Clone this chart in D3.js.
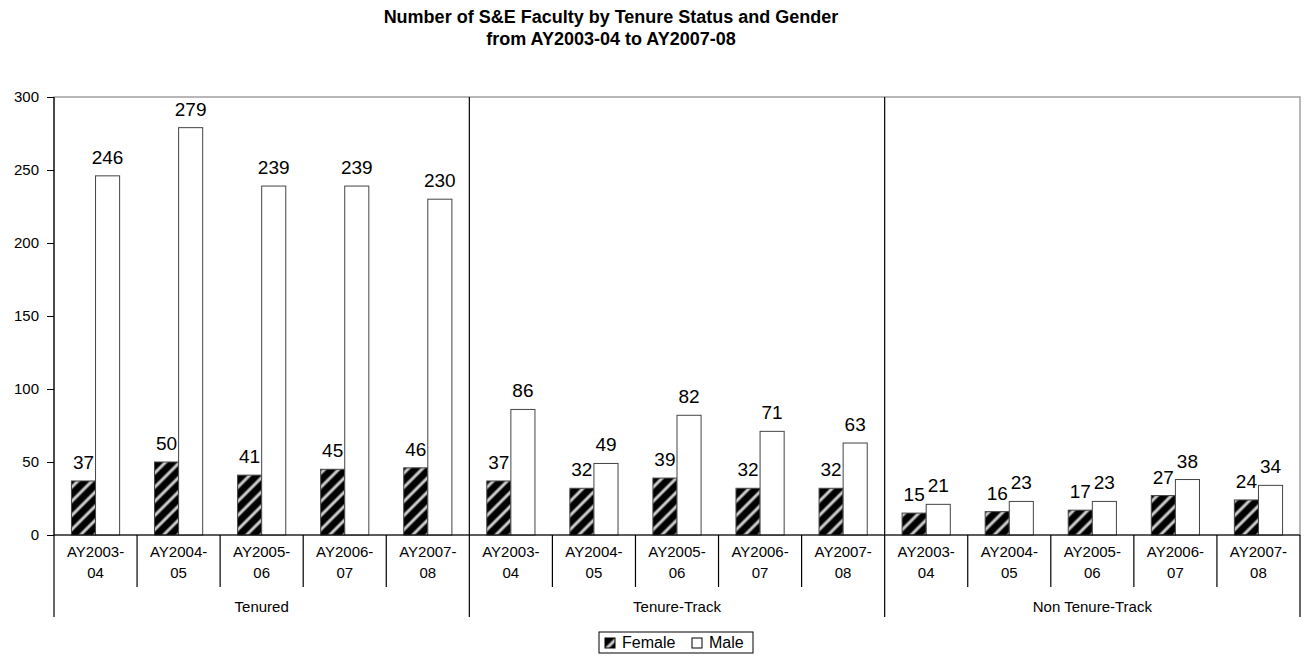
<!DOCTYPE html>
<html>
<head>
<meta charset="utf-8">
<script src="https://cdn.jsdelivr.net/npm/d3@7"></script>
<style>
  body { margin: 0; background: #fff; }
  text { font-family: "Liberation Sans", Arial, sans-serif; }
</style>
</head>
<body>
<div id="chart"></div>
<script>
// S&E faculty counts
const groups = ["Tenured", "Tenure-Track", "Non Tenure-Track"];
const years = ["AY2003-04", "AY2004-05", "AY2005-06", "AY2006-07", "AY2007-08"];
const series = ["Female", "Male"];
const femaleValues = [
  [37, 50, 41, 45, 46],
  [37, 32, 39, 32, 32],
  [15, 16, 17, 27, 24]
];
const maleValues = [
  [246, 279, 239, 239, 230],
  [86, 49, 82, 71, 63],
  [21, 23, 23, 38, 34]
];
const yTicks = [0, 50, 100, 150, 200, 250, 300];

const width = 1308, height = 656;
const margin = { left: 54, right: 8, top: 97, bottom: 121 };
const plotRight = width - margin.right;
const plotBottom = height - margin.bottom;

// flatten into one row per category
const rows = [];
groups.forEach((g, gi) => {
  years.forEach((yr, yi) => {
    rows.push({ key: g + "|" + yr, group: g, gi, year: yr, yi,
      Female: femaleValues[gi][yi], Male: maleValues[gi][yi] });
  });
});

const svg = d3.select("#chart").append("svg")
  .attr("width", width)
  .attr("height", height);

const defs = svg.append("defs");

// soft diagonal stripes for the Female bars
const grad = defs.append("linearGradient")
  .attr("id", "stripeGrad")
  .attr("x1", "0%").attr("x2", "100%")
  .attr("y1", "0%").attr("y2", "0%");
[[0, "#000"], [0.45, "#000"], [0.7, "#fff"], [0.95, "#000"], [1, "#000"]].forEach(s => {
  grad.append("stop").attr("offset", s[0]).attr("stop-color", s[1]);
});
const pat = defs.append("pattern")
  .attr("id", "femaleHatch")
  .attr("patternUnits", "userSpaceOnUse")
  .attr("width", 10).attr("height", 10)
  .attr("patternTransform", "rotate(45)");
pat.append("rect")
  .attr("width", 10).attr("height", 10)
  .attr("fill", "url(#stripeGrad)");

const x = d3.scaleBand()
  .domain(rows.map(d => d.key))
  .range([margin.left, plotRight])
  .padding(0);

const xInner = d3.scaleBand()
  .domain(series)
  .range([x.bandwidth() * 0.21, x.bandwidth() * 0.79])
  .padding(0);

const y = d3.scaleLinear()
  .domain([0, 300])
  .range([plotBottom, margin.top]);

// Title
const title = svg.append("text")
  .attr("x", 611)
  .attr("y", 23)
  .attr("text-anchor", "middle")
  .attr("font-size", "18px")
  .attr("font-weight", "bold")
  .attr("fill", "#000");
title.append("tspan").attr("x", 611).attr("dy", 0)
  .text("Number of S&E Faculty by Tenure Status and Gender");
title.append("tspan").attr("x", 611).attr("dy", 22)
  .text("from AY2003-04 to AY2007-08");

// plot area border (grey)
svg.append("rect")
  .attr("x", margin.left)
  .attr("y", margin.top)
  .attr("width", plotRight - margin.left)
  .attr("height", plotBottom - margin.top)
  .attr("fill", "none")
  .attr("stroke", "#a0a0a0")
  .attr("stroke-width", 1.5);

// bars
const cat = svg.append("g").selectAll("g")
  .data(rows)
  .enter()
  .append("g")
  .attr("transform", d => `translate(${x(d.key)},0)`);

cat.selectAll("rect")
  .data(d => series.map(s => ({ s, v: d[s] })))
  .enter()
  .append("rect")
  .attr("x", d => xInner(d.s))
  .attr("y", d => y(d.v))
  .attr("width", xInner.bandwidth())
  .attr("height", d => y(0) - y(d.v))
  .attr("fill", d => d.s === "Female" ? "url(#femaleHatch)" : "#fff")
  .attr("stroke", "#444")
  .attr("stroke-width", 1);

cat.selectAll("text.val")
  .data(d => series.map(s => ({ s, v: d[s] })))
  .enter()
  .append("text")
  .attr("class", "val")
  .attr("x", d => xInner(d.s) + xInner.bandwidth() / 2)
  .attr("y", d => y(d.v) - 12)
  .attr("text-anchor", "middle")
  .attr("font-size", "19px")
  .attr("fill", "#000")
  .text(d => d.v);

// y axis
const yAxis = d3.axisLeft(y)
  .tickValues(yTicks)
  .tickSize(7)
  .tickPadding(8);
const yg = svg.append("g")
  .attr("transform", `translate(${margin.left},0)`)
  .call(yAxis);
yg.select(".domain").remove();
yg.selectAll("line").attr("stroke", "#000");
yg.selectAll("text")
  .attr("font-size", "15px")
  .attr("font-family", "Liberation Sans, Arial, sans-serif")
  .attr("fill", "#000");

// axis lines
const axisLines = svg.append("g").attr("stroke", "#000").attr("stroke-width", 1.2);
axisLines.append("line")
  .attr("x1", margin.left).attr("x2", margin.left)
  .attr("y1", margin.top).attr("y2", plotBottom + 82);
axisLines.append("line")
  .attr("x1", margin.left).attr("x2", plotRight)
  .attr("y1", plotBottom).attr("y2", plotBottom);

// category separators in the label area
rows.forEach((d, i) => {
  if (i === 0) return;
  const xb = x(d.key);
  const isGroupEdge = d.yi === 0;
  axisLines.append("line")
    .attr("x1", xb).attr("x2", xb)
    .attr("y1", isGroupEdge ? margin.top : plotBottom)
    .attr("y2", isGroupEdge ? plotBottom + 82 : plotBottom + 52);
});
axisLines.append("line")
  .attr("x1", plotRight).attr("x2", plotRight)
  .attr("y1", plotBottom).attr("y2", plotBottom + 82);

// year labels (two lines)
const yl = svg.append("g").selectAll("text")
  .data(rows)
  .enter()
  .append("text")
  .attr("text-anchor", "middle")
  .attr("font-size", "15px")
  .attr("fill", "#000");
yl.append("tspan")
  .attr("x", d => x(d.key) + x.bandwidth() / 2)
  .attr("y", plotBottom + 22)
  .text(d => d.year.split("-")[0] + "-");
yl.append("tspan")
  .attr("x", d => x(d.key) + x.bandwidth() / 2)
  .attr("y", plotBottom + 43)
  .text(d => d.year.split("-")[1]);

// group labels
svg.append("g").selectAll("text")
  .data(groups)
  .enter()
  .append("text")
  .attr("x", (g, gi) => {
    const first = x(g + "|" + years[0]);
    const last = x(g + "|" + years[years.length - 1]) + x.bandwidth();
    return (first + last) / 2;
  })
  .attr("y", plotBottom + 77)
  .attr("text-anchor", "middle")
  .attr("font-size", "15px")
  .attr("fill", "#000")
  .text(g => g);

// legend
const legend = svg.append("g").attr("transform", "translate(599,632)");
legend.append("rect")
  .attr("width", 154).attr("height", 21)
  .attr("fill", "#fff")
  .attr("stroke", "#000")
  .attr("stroke-width", 1);
const legItems = [{ s: "Female", x: 6 }, { s: "Male", x: 93 }];
legItems.forEach(it => {
  legend.append("rect")
    .attr("x", it.x).attr("y", 6)
    .attr("width", 10).attr("height", 10)
    .attr("fill", it.s === "Female" ? "url(#femaleHatch)" : "#fff")
    .attr("stroke", "#000")
    .attr("stroke-width", 1);
  legend.append("text")
    .attr("x", it.x + 17)
    .attr("y", 16)
    .attr("font-size", "16px")
    .attr("fill", "#000")
    .text(it.s);
});
</script>
</body>
</html>
